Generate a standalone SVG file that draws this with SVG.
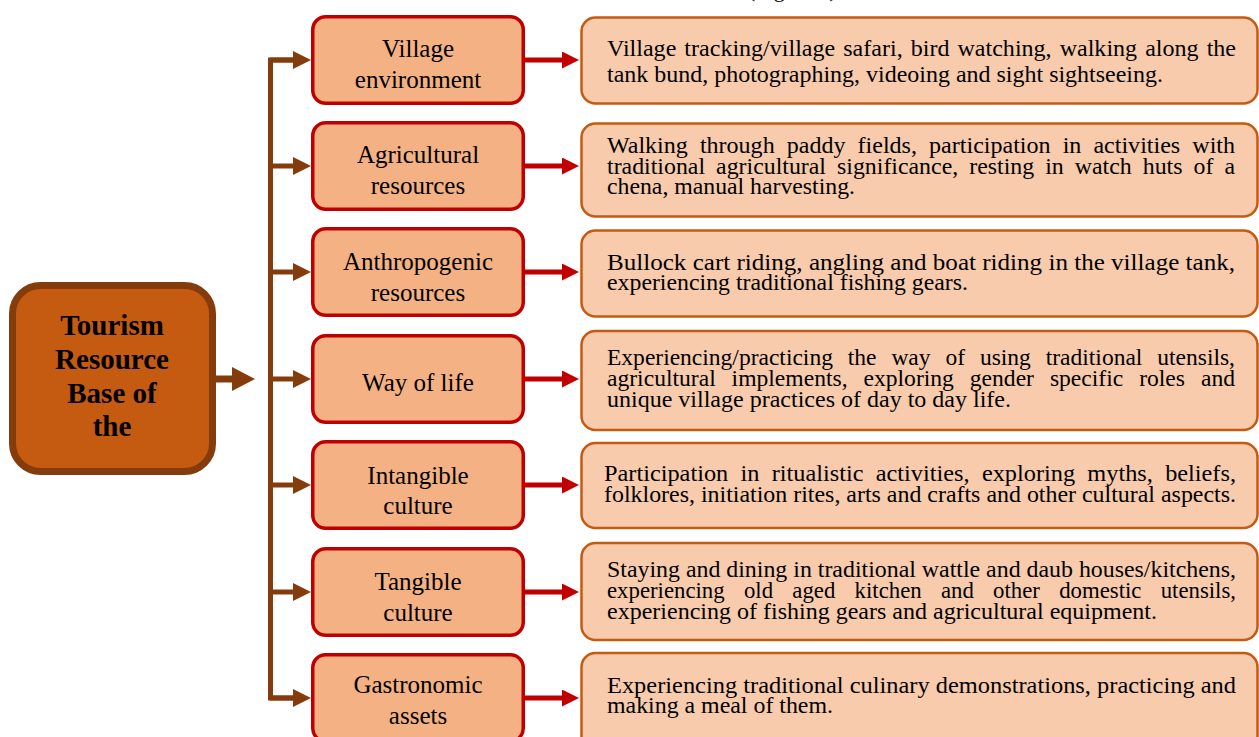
<svg xmlns="http://www.w3.org/2000/svg" width="1259" height="737" viewBox="0 0 1259 737">
  <defs>
    <style>
      .root-box { fill: #C55A11; stroke: #843C0C; stroke-width: 7; }
      .root-text { font-family: "Liberation Serif", "Times New Roman", serif; font-weight: bold; font-size: 29px; fill: #000; text-anchor: middle; }
      .cat-box { fill: #F4B183; stroke: #C00000; stroke-width: 3.5; }
      .cat-text { font-family: "Liberation Serif", "Times New Roman", serif; font-size: 25px; fill: #000; text-anchor: middle; }
      .act-box { fill: #F8CBAD; stroke: #C55A11; stroke-width: 2.5; }
      .act-text { font-family: "Liberation Serif", "Times New Roman", serif; font-size: 23.5px; fill: #000; }
      .brown { stroke: #843C0C; fill: none; }
      .red { stroke: #C00000; fill: none; stroke-width: 5; }
      .caption { font-family: "Liberation Serif", "Times New Roman", serif; font-size: 22px; fill: #000; }
    </style>
    <marker id="head-root" markerUnits="userSpaceOnUse" markerWidth="24" markerHeight="24" refX="0" refY="12" orient="auto">
      <path d="M0,0 L23,12 L0,24 z" fill="#843C0C"/>
    </marker>
    <marker id="head-brown" markerUnits="userSpaceOnUse" markerWidth="18" markerHeight="18" refX="0" refY="9" orient="auto">
      <path d="M0,0 L18,9 L0,18 z" fill="#843C0C"/>
    </marker>
    <marker id="head-red" markerUnits="userSpaceOnUse" markerWidth="18" markerHeight="18" refX="0" refY="8.5" orient="auto">
      <path d="M0,0 L17,8.5 L0,17 z" fill="#C00000"/>
    </marker>
  </defs>

  <rect width="1259" height="737" fill="#FFFFFF"/>

  <!-- caption line running off the top edge -->
  <text class="caption" x="748" y="-3">(Figure 1).</text>

  <!-- connectors -->
  <g id="connectors">
    <line class="brown" x1="216" y1="379" x2="232" y2="379" stroke-width="7" marker-end="url(#head-root)"/>
    <path class="brown" d="M293,60 H270.5 V698 H293" stroke-width="5"/>
    <line class="brown" x1="270" y1="60" x2="293" y2="60" stroke-width="5" marker-end="url(#head-brown)"/>
    <line class="brown" x1="270" y1="166" x2="293" y2="166" stroke-width="5" marker-end="url(#head-brown)"/>
    <line class="brown" x1="270" y1="272" x2="293" y2="272" stroke-width="5" marker-end="url(#head-brown)"/>
    <line class="brown" x1="270" y1="379" x2="293" y2="379" stroke-width="5" marker-end="url(#head-brown)"/>
    <line class="brown" x1="270" y1="485" x2="293" y2="485" stroke-width="5" marker-end="url(#head-brown)"/>
    <line class="brown" x1="270" y1="592" x2="293" y2="592" stroke-width="5" marker-end="url(#head-brown)"/>
    <line class="brown" x1="270" y1="698" x2="293" y2="698" stroke-width="5" marker-end="url(#head-brown)"/>

    <line class="red" x1="524" y1="60" x2="562" y2="60" marker-end="url(#head-red)"/>
    <line class="red" x1="524" y1="166" x2="562" y2="166" marker-end="url(#head-red)"/>
    <line class="red" x1="524" y1="272" x2="562" y2="272" marker-end="url(#head-red)"/>
    <line class="red" x1="524" y1="379" x2="562" y2="379" marker-end="url(#head-red)"/>
    <line class="red" x1="524" y1="485" x2="562" y2="485" marker-end="url(#head-red)"/>
    <line class="red" x1="524" y1="592" x2="562" y2="592" marker-end="url(#head-red)"/>
    <line class="red" x1="524" y1="698" x2="562" y2="698" marker-end="url(#head-red)"/>
  </g>

  <!-- root node -->
  <g id="root">
    <rect class="root-box" x="12.5" y="285.5" width="200" height="186" rx="28"/>
    <text class="root-text" x="112" y="335">Tourism</text>
    <text class="root-text" x="112" y="369">Resource</text>
    <text class="root-text" x="112" y="403">Base of</text>
    <text class="root-text" x="112" y="436">the</text>
  </g>

  <!-- resource categories -->
  <g id="village-environment">
    <rect class="cat-box" x="312.75" y="16.75" width="210.5" height="86.5" rx="13"/>
    <text class="cat-text" x="418" y="57">Village</text>
    <text class="cat-text" x="418" y="88">environment</text>
  </g>
  <g id="agricultural-resources">
    <rect class="cat-box" x="312.75" y="122.75" width="210.5" height="86.5" rx="13"/>
    <text class="cat-text" x="418" y="163">Agricultural</text>
    <text class="cat-text" x="418" y="194">resources</text>
  </g>
  <g id="anthropogenic-resources">
    <rect class="cat-box" x="312.75" y="228.75" width="210.5" height="86.5" rx="13"/>
    <text class="cat-text" x="418" y="270">Anthropogenic</text>
    <text class="cat-text" x="418" y="301">resources</text>
  </g>
  <g id="way-of-life">
    <rect class="cat-box" x="312.75" y="335.75" width="210.5" height="86.5" rx="13"/>
    <text class="cat-text" x="418" y="391">Way of life</text>
  </g>
  <g id="intangible-culture">
    <rect class="cat-box" x="312.75" y="441.75" width="210.5" height="86.5" rx="13"/>
    <text class="cat-text" x="418" y="484">Intangible</text>
    <text class="cat-text" x="418" y="514">culture</text>
  </g>
  <g id="tangible-culture">
    <rect class="cat-box" x="312.75" y="548.75" width="210.5" height="86.5" rx="13"/>
    <text class="cat-text" x="418" y="590">Tangible</text>
    <text class="cat-text" x="418" y="621">culture</text>
  </g>
  <g id="gastronomic-assets">
    <rect class="cat-box" x="312.75" y="654.75" width="210.5" height="86.5" rx="13"/>
    <text class="cat-text" x="418" y="693">Gastronomic</text>
    <text class="cat-text" x="418" y="724">assets</text>
  </g>

  <!-- activities -->
  <g id="village-environment-activities">
    <rect class="act-box" x="581.5" y="17.5" width="676" height="86" rx="14"/>
    <text class="act-text" x="607" y="56" textLength="629" lengthAdjust="spacingAndGlyphs" word-spacing="2">Village tracking/village safari, bird watching, walking along the</text>
    <text class="act-text" x="607" y="82" textLength="556" lengthAdjust="spacingAndGlyphs">tank bund, photographing, videoing and sight sightseeing.</text>
  </g>
  <g id="agricultural-activities">
    <rect class="act-box" x="581.5" y="123.5" width="676" height="93" rx="14"/>
    <text class="act-text" x="607" y="153" textLength="628" lengthAdjust="spacingAndGlyphs" word-spacing="6">Walking through paddy fields, participation in activities with</text>
    <text class="act-text" x="607" y="174" textLength="628" lengthAdjust="spacingAndGlyphs" word-spacing="5">traditional agricultural significance, resting in watch huts of a</text>
    <text class="act-text" x="607" y="194" textLength="248" lengthAdjust="spacingAndGlyphs">chena, manual harvesting.</text>
  </g>
  <g id="anthropogenic-activities">
    <rect class="act-box" x="581.5" y="230.5" width="676" height="86" rx="14"/>
    <text class="act-text" x="607" y="270" textLength="628" lengthAdjust="spacingAndGlyphs">Bullock cart riding, angling and boat riding in the village tank,</text>
    <text class="act-text" x="607" y="290" textLength="361" lengthAdjust="spacingAndGlyphs">experiencing traditional fishing gears.</text>
  </g>
  <g id="way-of-life-activities">
    <rect class="act-box" x="581.5" y="331" width="676" height="99" rx="14"/>
    <text class="act-text" x="607" y="365" textLength="628" lengthAdjust="spacingAndGlyphs" word-spacing="9">Experiencing/practicing the way of using traditional utensils,</text>
    <text class="act-text" x="607" y="386" textLength="628" lengthAdjust="spacingAndGlyphs" word-spacing="10">agricultural implements, exploring gender specific roles and</text>
    <text class="act-text" x="607" y="407" textLength="404" lengthAdjust="spacingAndGlyphs">unique village practices of day to day life.</text>
  </g>
  <g id="intangible-activities">
    <rect class="act-box" x="581.5" y="443" width="676" height="85" rx="14"/>
    <text class="act-text" x="604" y="481" textLength="632" lengthAdjust="spacingAndGlyphs" word-spacing="6">Participation in ritualistic activities, exploring myths, beliefs,</text>
    <text class="act-text" x="604" y="502" textLength="632" lengthAdjust="spacingAndGlyphs">folklores, initiation rites, arts and crafts and other cultural aspects.</text>
  </g>
  <g id="tangible-activities">
    <rect class="act-box" x="581.5" y="543" width="676" height="97" rx="14"/>
    <text class="act-text" x="607" y="577" textLength="629" lengthAdjust="spacingAndGlyphs">Staying and dining in traditional wattle and daub houses/kitchens,</text>
    <text class="act-text" x="607" y="598" textLength="629" lengthAdjust="spacingAndGlyphs" word-spacing="14">experiencing old aged kitchen and other domestic utensils,</text>
    <text class="act-text" x="607" y="619" textLength="550" lengthAdjust="spacingAndGlyphs">experiencing of fishing gears and agricultural equipment.</text>
  </g>
  <g id="gastronomic-activities">
    <rect class="act-box" x="581.5" y="653" width="676" height="97" rx="14"/>
    <text class="act-text" x="607" y="693" textLength="629" lengthAdjust="spacingAndGlyphs">Experiencing traditional culinary demonstrations, practicing and</text>
    <text class="act-text" x="607" y="713" textLength="226" lengthAdjust="spacingAndGlyphs">making a meal of them.</text>
  </g>
</svg>
